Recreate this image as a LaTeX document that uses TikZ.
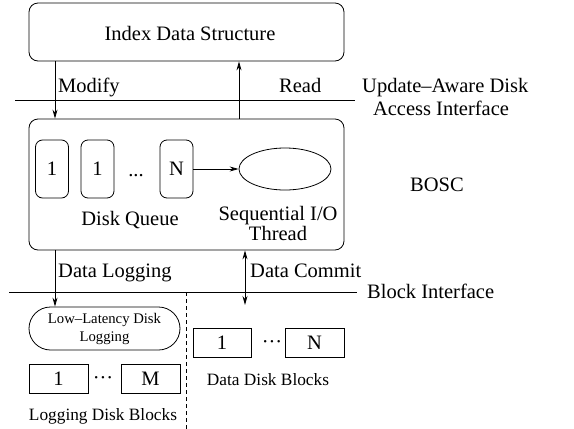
\documentclass[tikz,border=0pt]{standalone}
\usepackage{fontspec}
\setmainfont{Liberation Serif}
\usetikzlibrary{arrows.meta,shapes.misc,shapes.geometric}
\newcommand\fbig{\fontsize{20.5}{23}\selectfont}
\newcommand\fmid{\fontsize{17.3}{20}\selectfont}
\newcommand\fsml{\fontsize{14.7}{18}\selectfont}
\begin{document}
\begin{tikzpicture}[x=1pt,y=-1pt,
  lw/.style={line width=0.8pt},
  bigbox/.style={draw,lw,rounded corners=9pt,minimum width=315pt,inner sep=0pt},
  qbox/.style={draw,lw,rounded corners=7pt,minimum width=33pt,minimum height=58pt,inner sep=0pt,font=\fbig},
  blk/.style={draw,lw,minimum width=59pt,minimum height=29pt,inner sep=0pt,font=\fbig},
  lbl/.style={inner sep=0pt,font=\fbig,anchor=base},
  lblw/.style={inner sep=0pt,font=\fbig,anchor=base west},
  mlbl/.style={inner sep=0pt,font=\fmid,anchor=base},
  arr/.style={lw,-{Stealth[length=9pt,width=5pt]}},
  darr/.style={lw,{Stealth[length=9pt,width=5pt]}-{Stealth[length=9pt,width=5pt]}},
]
\useasboundingbox (0,0) rectangle (574,429);

% top box
\node[bigbox,minimum height=58pt] (top) at (186.5,32) {};
\node[lbl] (toplbl) at (190,40) {Index Data Structure};

% BOSC box
\node[bigbox,minimum height=131pt] (bosc) at (186.5,184.5) {};
\node[qbox] (q1) at (52,169) {1};
\node[qbox] (q2) at (97.5,169) {1};
\node[lbl] (qdots) at (136,176) {...};
\node[qbox] (qN) at (176.5,169) {N};
\node[draw,lw,ellipse,minimum width=92pt,minimum height=42pt,inner sep=0pt] (ell) at (285,169) {};
\draw[arr] (qN.east) -- (ell.west);
\node[lbl] (dq) at (130,225) {Disk Queue};
\node[lbl] (seq) at (278,220) {Sequential I/O};
\node[lbl] (thr) at (278,240) {Thread};
\node[lbl] (boscl) at (437,191) {BOSC};

% interface lines
\draw[lw] (15,100) -- (355,100);
\node[lblw] (uad) at (362,92) {Update–Aware Disk};
\node[lbl] (aci) at (441,115) {Access Interface};
\draw[lw] (9,292) -- (357,292);
\node[lblw] (bif) at (367,298) {Block Interface};
\draw[lw,dash pattern=on 4pt off 3pt] (186,292) -- (186,429);

% low latency logging
\node[draw,lw,rounded rectangle,minimum width=151pt,minimum height=43pt,inner sep=0pt,align=center,font=\fsml] (llog) at (104.5,328.5) {Low–Latency Disk\\Logging};

% log blocks
\node[blk] (lb1) at (58.5,378.5) {1};
\node[lbl] (ldots) at (103,384.5) {···};
\node[blk] (lbM) at (150.5,378.5) {M};
\node[mlbl] (ldb) at (103,420) {Logging Disk Blocks};

% data blocks
\node[blk,minimum width=58pt] (db1) at (222,342.5) {1};
\node[lbl] (ddots) at (272,348.5) {···};
\node[blk] (dbN) at (314.5,342.5) {N};
\node[mlbl] (ddb) at (268,385) {Data Disk Blocks};

% connectors
\coordinate (mx) at (55,0);
\coordinate (rx) at (239,0);
\coordinate (cx) at (245,0);
\coordinate (dc) at (245,305);
\draw[arr] (mx |- top.south) -- (mx |- bosc.north);
\draw[arr] (rx |- bosc.north) -- (rx |- top.south);
\draw[arr] (mx |- bosc.south) -- (mx |- llog.north);
\draw[darr] (cx |- bosc.south) -- (dc);
\node[lblw] (modl) at (58,92) {Modify};
\node[lblw] (readl) at (279,92) {Read};
\node[lblw] (dlog) at (58,277) {Data Logging};
\node[lblw] (dcom) at (250,277) {Data Commit};
\end{tikzpicture}
\end{document}
